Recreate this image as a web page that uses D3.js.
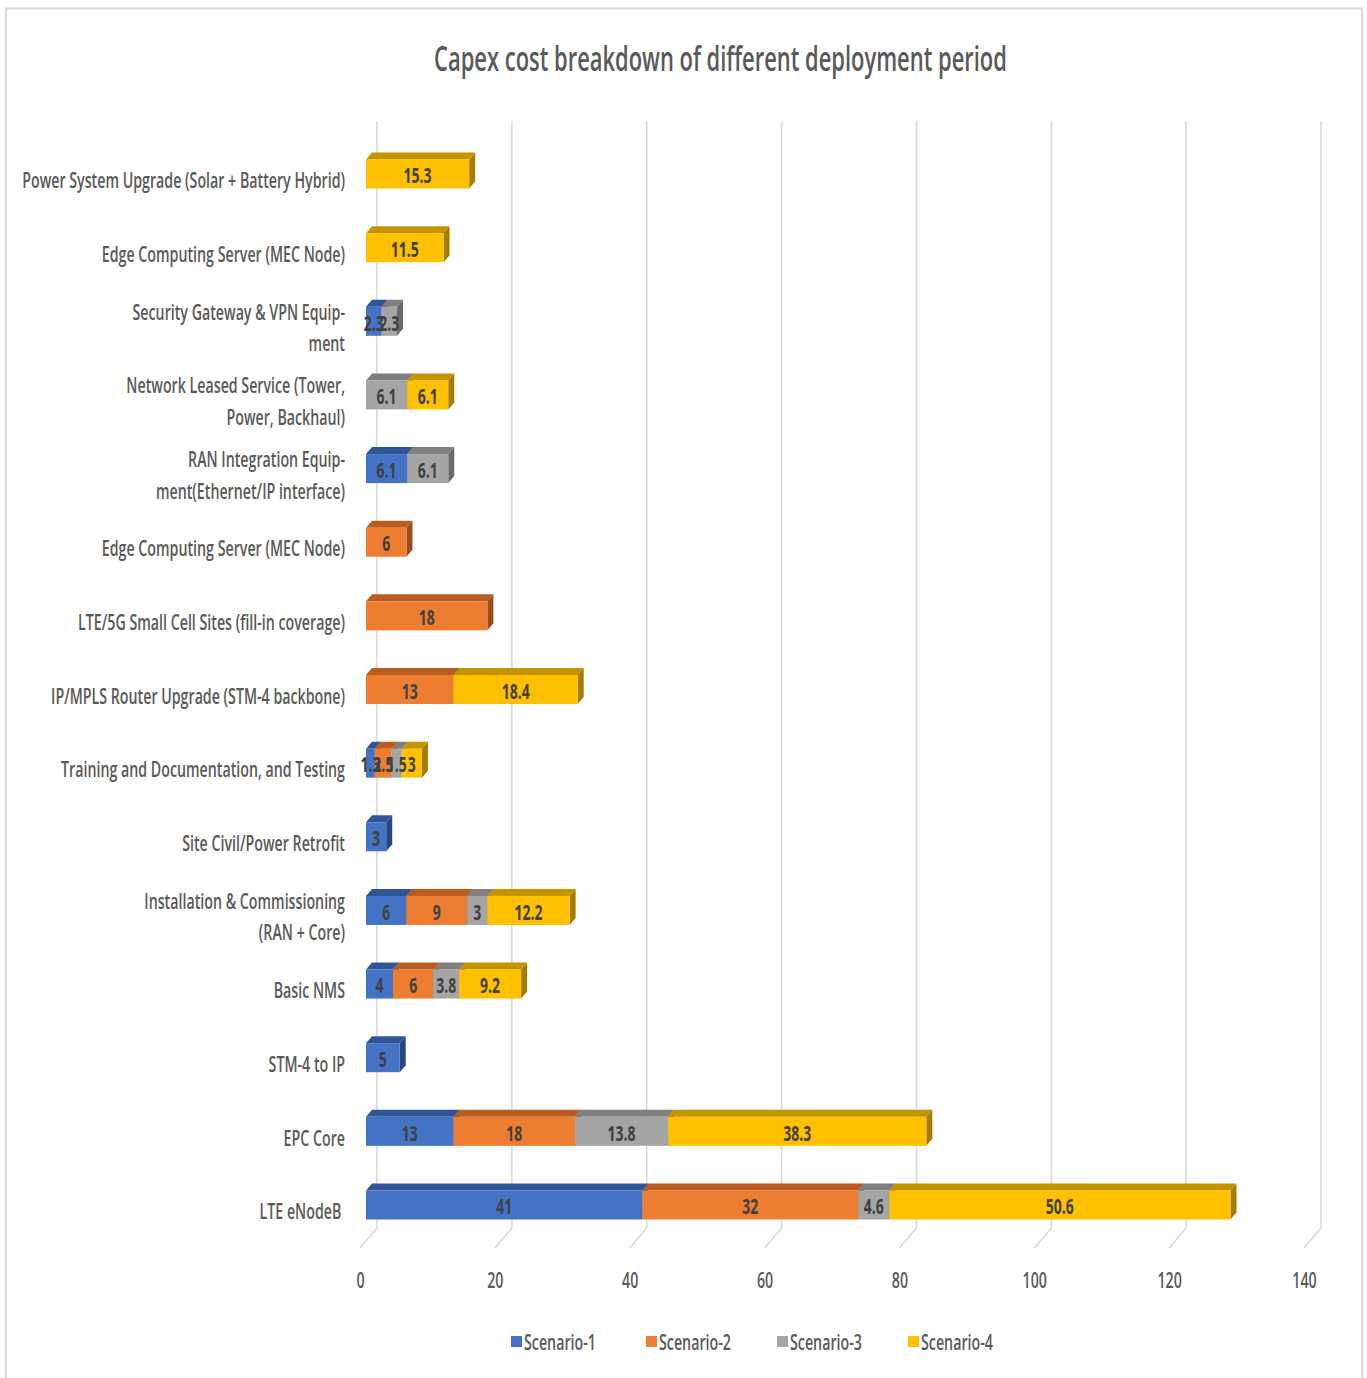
<!DOCTYPE html>
<html>
<head>
<meta charset="utf-8">
<script src="https://cdn.jsdelivr.net/npm/d3@7"></script>
<style>
  html, body { margin: 0; padding: 0; background: #ffffff; }
  svg { display: block; }
  text { font-family: "Open Sans", "Noto Sans", sans-serif; }
</style>
</head>
<body>
<svg id="chart" width="1367" height="1378"></svg>
<script>
// Cost items, listed top to bottom as they appear on the chart
const categories = [
  "Power System Upgrade (Solar + Battery Hybrid)",
  "Edge Computing Server (MEC Node) ",
  "Security Gateway & VPN Equipment",
  "Network Leased Service (Tower, Power, Backhaul)",
  "RAN Integration Equipment(Ethernet/IP interface)",
  "Edge Computing Server (MEC Node)",
  "LTE/5G Small Cell Sites (fill-in coverage)",
  "IP/MPLS Router Upgrade (STM-4 backbone)",
  "Training and Documentation, and Testing",
  "Site Civil/Power Retrofit",
  "Installation & Commissioning (RAN + Core)",
  "Basic NMS",
  "STM-4 to IP",
  "EPC Core",
  "LTE eNodeB"
];

// Wrapped label lines for each category
const labelLines = [
  ["Power System Upgrade (Solar + Battery Hybrid)"],
  ["Edge Computing Server (MEC Node)"],
  ["Security Gateway & VPN Equip-", "ment"],
  ["Network Leased Service (Tower,", "Power, Backhaul)"],
  ["RAN Integration Equip-", "ment(Ethernet/IP interface)"],
  ["Edge Computing Server (MEC Node)"],
  ["LTE/5G Small Cell Sites (fill-in coverage)"],
  ["IP/MPLS Router Upgrade (STM-4 backbone)"],
  ["Training and Documentation, and Testing"],
  ["Site Civil/Power Retrofit"],
  ["Installation & Commissioning", "(RAN + Core)"],
  ["Basic NMS"],
  ["STM-4 to IP"],
  ["EPC Core"],
  ["LTE eNodeB\u00a0"]
];

// Capex values per scenario (null = not part of that scenario)
const scenario1 = [null, null, 2.3, null, 6.1, null, null, null, 1.3, 3, 6, 4, 5, 13, 41];
const scenario2 = [null, null, null, null, null, 6, 18, 13, 2.5, null, 9, 6, null, 18, 32];
const scenario3 = [null, null, 2.3, 6.1, 6.1, null, null, null, 1.5, null, 3, 3.8, null, 13.8, 4.6];
const scenario4 = [15.3, 11.5, null, 6.1, null, null, null, 18.4, 3, null, 12.2, 9.2, null, 38.3, 50.6];

const seriesNames = ["Scenario-1", "Scenario-2", "Scenario-3", "Scenario-4"];
const xTicks = [0, 20, 40, 60, 80, 100, 120, 140];

const frontColors = ["#4472C4", "#ED7D31", "#A5A5A5", "#FFC000"];
const topColors   = ["#2F5597", "#BA5B1F", "#7F7F7F", "#C29400"];
const sideColors  = ["#27477E", "#9C4C18", "#6A6A6A", "#A37C00"];

const svg = d3.select("#chart");
const textFill = "#595959";

// Horizontal squeeze factor that makes a sample string fill a given width
function squeeze(sample, size, weight, width) {
  const t = svg.append("text")
    .attr("font-size", size).attr("font-weight", weight).text(sample);
  const w = t.node().getComputedTextLength();
  t.remove();
  return width / w;
}

const LABEL_SIZE = 21, LABEL_WEIGHT = 600;
const sxLabel = squeeze("Power System Upgrade (Solar + Battery Hybrid)", LABEL_SIZE, LABEL_WEIGHT, 323);
const sxTitle = squeeze("Capex cost breakdown of different deployment period", 34, 600, 573);
const sxLegend = squeeze("Scenario-1", LABEL_SIZE, LABEL_WEIGHT, 72);
const sxValue = squeeze("15.3", LABEL_SIZE, 700, 28);

// Outer chart border
svg.append("rect")
  .attr("x", 6).attr("y", 8.5)
  .attr("width", 1356).attr("height", 1380)
  .attr("fill", "none").attr("stroke", "#D9D9D9").attr("stroke-width", 2);

// Scales: bar front faces, back wall gridlines
const xBar = d3.scaleLinear().domain([0, 140]).range([366, 366 + 140 * 6.743]);
const xBack = d3.scaleLinear().domain([0, 140]).range([377, 377 + 140 * 6.743]);
const y = d3.scaleBand().domain(categories)
  .range([137.2, 1241.8]).paddingInner(0.606).paddingOuter(0.303);

const depth = { dx: 6, dy: -7 };
const floorDepth = { dx: -17, dy: 20 };
const wallTop = 121, wallBottom = 1228;

// Gridlines on the back wall, folding onto the floor
const grid = svg.append("g");
xTicks.forEach(t => {
  const xb = xBack(t);
  grid.append("path")
    .attr("d", `M${xb},${wallTop}L${xb},${wallBottom}L${xb + floorDepth.dx},${wallBottom + floorDepth.dy}`)
    .attr("fill", "none").attr("stroke", "#D9D9D9").attr("stroke-width", 1.6);
});

// Condensed text helper
function ctext(g, x, yy, str, size, anchor, fill, weight, sx) {
  return g.append("text")
    .attr("transform", `translate(${x},${yy}) scale(${sx},1)`)
    .attr("text-anchor", anchor)
    .attr("dominant-baseline", "central")
    .attr("font-size", size)
    .attr("font-weight", weight)
    .attr("fill", fill)
    .style("white-space", "pre")
    .text(str);
}

// Tick labels on the front floor edge
const ticks = svg.append("g");
xTicks.forEach(t => {
  ctext(ticks, xBack(t) + floorDepth.dx + 0.5, 1280, d3.format("d")(t), LABEL_SIZE, "middle", textFill, LABEL_WEIGHT, sxLabel);
});

// Category labels
const cats = svg.append("g");
categories.forEach((c, i) => {
  const cy = y(c) + y.bandwidth() / 2 + 6;
  const lines = labelLines[i];
  const lh = 31.5;
  lines.forEach((ln, j) => {
    const ly = cy + (j - (lines.length - 1) / 2) * lh;
    ctext(cats, 345, ly, ln, LABEL_SIZE, "end", textFill, LABEL_WEIGHT, sxLabel);
  });
});

// Stacked 3D bars
const series = [scenario1, scenario2, scenario3, scenario4];
const bars = svg.append("g");
const labels = svg.append("g");
categories.forEach((c, i) => {
  let acc = 0;
  const top = y(c), h = y.bandwidth();
  const segs = [];
  series.forEach((s, k) => {
    const v = s[i];
    if (v == null) return;
    segs.push({ k, v, a: acc, b: acc + v });
    acc += v;
  });
  segs.forEach(sg => {
    const x0 = xBar(sg.a), x1 = xBar(sg.b);
    const g = bars.append("g");
    // side face
    g.append("path")
      .attr("d", `M${x1},${top}L${x1 + depth.dx},${top + depth.dy}L${x1 + depth.dx},${top + h + depth.dy}L${x1},${top + h}Z`)
      .attr("fill", sideColors[sg.k]);
    // top face
    g.append("path")
      .attr("d", `M${x0},${top}L${x0 + depth.dx},${top + depth.dy}L${x1 + depth.dx},${top + depth.dy}L${x1},${top}Z`)
      .attr("fill", topColors[sg.k]);
    // front face
    g.append("rect")
      .attr("x", x0).attr("y", top)
      .attr("width", x1 - x0).attr("height", h)
      .attr("fill", frontColors[sg.k]);
  });
  segs.forEach(sg => {
    const xm = (xBar(sg.a) + xBar(sg.b)) / 2;
    ctext(labels, xm, top + h / 2 + 1, String(sg.v), LABEL_SIZE, "middle", "#404040", 700, sxValue);
  });
});

// Title
ctext(svg, 720.5, 57, "Capex cost breakdown of different deployment period", 34, "middle", textFill, 600, sxTitle);

// Legend
const legendX = [511, 646, 777, 908];
const legend = svg.append("g");
seriesNames.forEach((n, k) => {
  legend.append("rect")
    .attr("x", legendX[k]).attr("y", 1336)
    .attr("width", 11).attr("height", 11)
    .attr("fill", frontColors[k]);
  ctext(legend, legendX[k] + 13, 1342, n, LABEL_SIZE, "start", textFill, LABEL_WEIGHT, sxLegend);
});
</script>
</body>
</html>
